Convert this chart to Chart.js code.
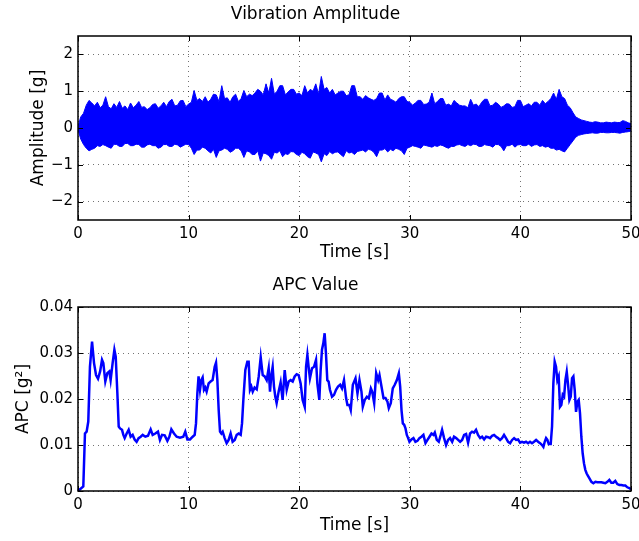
<!DOCTYPE html>
<html>
<head>
<meta charset="utf-8">
<script src="https://cdn.jsdelivr.net/npm/chart.js@4.4.1/dist/chart.umd.min.js"></script>
<style>
  body { margin: 0; background: #fff; }
  canvas { position: absolute; left: 0; }
</style>
</head>
<body>
<canvas id="vibration" width="639" height="270" style="top:0px"></canvas>
<canvas id="apc" width="639" height="270" style="top:271px"></canvas>
<script>
// axis ticks
const timeTicks = [0, 10, 20, 30, 40, 50];
const timeTickLabels = ["0", "10", "20", "30", "40", "50"];
const ampTicks = [-2, -1, 0, 1, 2];
const ampTickLabels = ["\u22122", "\u22121", "0", "1", "2"];
const apcTicks = [0, 0.01, 0.02, 0.03, 0.04];
const apcTickLabels = ["0", "0.01", "0.02", "0.03", "0.04"];

// vibration signal, upper / lower envelope every 0.25 s
const vibTime = [0, 0.25, 0.5, 0.75, 1, 1.25, 1.5, 1.75, 2, 2.25, 2.5, 2.75, 3, 3.25, 3.5, 3.75, 4, 4.25, 4.5, 4.75,
  5, 5.25, 5.5, 5.75, 6, 6.25, 6.5, 6.75, 7, 7.25, 7.5, 7.75, 8, 8.25, 8.5, 8.75, 9, 9.25, 9.5, 9.75,
  10, 10.25, 10.5, 10.75, 11, 11.25, 11.5, 11.75, 12, 12.25, 12.5, 12.75, 13, 13.25, 13.5, 13.75, 14, 14.25, 14.5, 14.75,
  15, 15.25, 15.5, 15.75, 16, 16.25, 16.5, 16.75, 17, 17.25, 17.5, 17.75, 18, 18.25, 18.5, 18.75, 19, 19.25, 19.5, 19.75,
  20, 20.25, 20.5, 20.75, 21, 21.25, 21.5, 21.75, 22, 22.25, 22.5, 22.75, 23, 23.25, 23.5, 23.75, 24, 24.25, 24.5, 24.75,
  25, 25.25, 25.5, 25.75, 26, 26.25, 26.5, 26.75, 27, 27.25, 27.5, 27.75, 28, 28.25, 28.5, 28.75, 29, 29.25, 29.5, 29.75,
  30, 30.25, 30.5, 30.75, 31, 31.25, 31.5, 31.75, 32, 32.25, 32.5, 32.75, 33, 33.25, 33.5, 33.75, 34, 34.25, 34.5, 34.75,
  35, 35.25, 35.5, 35.75, 36, 36.25, 36.5, 36.75, 37, 37.25, 37.5, 37.75, 38, 38.25, 38.5, 38.75, 39, 39.25, 39.5, 39.75,
  40, 40.25, 40.5, 40.75, 41, 41.25, 41.5, 41.75, 42, 42.25, 42.5, 42.75, 43, 43.25, 43.5, 43.75, 44, 44.25, 44.5, 44.75,
  45, 45.25, 45.5, 45.75, 46, 46.25, 46.5, 46.75, 47, 47.25, 47.5, 47.75, 48, 48.25, 48.5, 48.75, 49, 49.25, 49.5, 49.75,
  50];
const vibUpper = [0.05, 0.30, 0.40, 0.62, 0.75, 0.68, 0.60, 0.70, 0.55, 0.62, 0.85, 0.58, 0.52, 0.66, 0.56, 0.72, 0.54, 0.60, 0.50, 0.68,
  0.55, 0.62, 0.72, 0.56, 0.58, 0.50, 0.55, 0.64, 0.66, 0.54, 0.60, 0.70, 0.58, 0.72, 0.78, 0.60, 0.62, 0.74, 0.75, 0.58,
  0.65, 0.70, 1.02, 0.75, 0.80, 0.72, 0.85, 0.70, 0.78, 0.92, 0.90, 0.72, 1.15, 0.80, 0.82, 0.70, 0.85, 0.92, 0.72, 0.80,
  1.02, 0.85, 0.92, 0.88, 0.95, 1.05, 1.00, 0.90, 1.20, 0.95, 1.35, 0.92, 1.00, 1.15, 1.15, 0.90, 0.98, 1.05, 1.05, 0.92,
  0.95, 0.88, 1.15, 0.95, 1.05, 1.00, 1.20, 0.92, 1.40, 1.05, 1.10, 0.95, 1.05, 0.90, 0.95, 1.00, 1.00, 0.88, 0.90, 1.15,
  1.15, 0.85, 0.85, 0.78, 0.88, 0.82, 0.78, 0.75, 0.80, 0.95, 0.95, 0.76, 0.90, 0.78, 0.75, 0.70, 0.80, 0.85, 0.85, 0.72,
  0.70, 0.62, 0.68, 0.75, 0.75, 0.64, 0.65, 0.70, 0.95, 0.66, 0.72, 0.80, 0.80, 0.62, 0.65, 0.60, 0.75, 0.68, 0.62, 0.60,
  0.60, 0.55, 0.78, 0.62, 0.65, 0.58, 0.70, 0.78, 0.78, 0.60, 0.62, 0.70, 0.65, 0.56, 0.60, 0.66, 0.65, 0.56, 0.58, 0.75,
  0.75, 0.58, 0.62, 0.66, 0.60, 0.70, 0.70, 0.62, 0.75, 0.66, 0.72, 0.80, 0.95, 0.78, 1.05, 0.85, 0.80, 0.62, 0.55, 0.42,
  0.30, 0.26, 0.22, 0.20, 0.18, 0.16, 0.15, 0.17, 0.16, 0.14, 0.14, 0.16, 0.15, 0.14, 0.16, 0.15, 0.15, 0.20, 0.18, 0.14,
  0.12];
const vibLower = [-0.05, -0.30, -0.45, -0.55, -0.62, -0.58, -0.55, -0.48, -0.50, -0.45, -0.48, -0.52, -0.55, -0.44, -0.45, -0.50, -0.50, -0.42, -0.42, -0.48,
  -0.48, -0.44, -0.45, -0.52, -0.52, -0.46, -0.44, -0.48, -0.48, -0.55, -0.52, -0.45, -0.45, -0.50, -0.50, -0.44, -0.46, -0.52, -0.48, -0.44,
  -0.45, -0.55, -0.72, -0.60, -0.60, -0.52, -0.55, -0.62, -0.68, -0.58, -0.80, -0.62, -0.60, -0.55, -0.58, -0.66, -0.62, -0.55, -0.55, -0.62,
  -0.80, -0.62, -0.65, -0.72, -0.72, -0.62, -0.90, -0.68, -0.70, -0.75, -0.85, -0.66, -0.68, -0.62, -0.78, -0.70, -0.72, -0.64, -0.65, -0.72,
  -0.75, -0.66, -0.70, -0.78, -0.82, -0.65, -0.68, -0.72, -0.92, -0.70, -0.75, -0.64, -0.70, -0.66, -0.65, -0.72, -0.78, -0.62, -0.68, -0.66,
  -0.72, -0.64, -0.62, -0.60, -0.65, -0.58, -0.60, -0.66, -0.78, -0.60, -0.60, -0.56, -0.65, -0.58, -0.62, -0.55, -0.58, -0.62, -0.72, -0.55,
  -0.52, -0.48, -0.50, -0.52, -0.55, -0.46, -0.48, -0.50, -0.52, -0.48, -0.50, -0.46, -0.48, -0.52, -0.55, -0.50, -0.50, -0.46, -0.45, -0.48,
  -0.50, -0.45, -0.48, -0.44, -0.45, -0.50, -0.50, -0.45, -0.47, -0.48, -0.52, -0.45, -0.45, -0.50, -0.62, -0.48, -0.48, -0.44, -0.52, -0.46,
  -0.45, -0.48, -0.48, -0.44, -0.50, -0.46, -0.45, -0.50, -0.48, -0.52, -0.50, -0.55, -0.55, -0.60, -0.58, -0.62, -0.65, -0.55, -0.45, -0.35,
  -0.25, -0.20, -0.18, -0.16, -0.15, -0.14, -0.13, -0.14, -0.14, -0.12, -0.12, -0.13, -0.13, -0.12, -0.12, -0.13, -0.14, -0.12, -0.11, -0.10,
  -0.08];

// APC curve
const apcTime = [0, 0.48, 0.63, 0.78, 0.93, 1.08, 1.27, 1.45, 1.63, 1.81, 2.0, 2.17, 2.29, 2.47, 2.65, 2.83, 2.95, 3.13, 3.29, 3.41,
  3.56, 3.68, 3.8, 3.98, 4.1, 4.22, 4.4, 4.58, 4.76, 4.94, 5.12, 5.3, 5.48, 5.67, 5.85, 6.09, 6.33, 6.57, 6.75, 6.99,
  7.23, 7.41, 7.6, 7.84, 8.08, 8.26, 8.44, 8.68, 8.92, 9.22, 9.52, 9.7, 9.89, 10.13, 10.37, 10.55, 10.67, 10.79, 10.9, 11.03,
  11.15, 11.27, 11.39, 11.51, 11.63, 11.81, 11.99, 12.17, 12.36, 12.48, 12.6, 12.72, 12.84, 12.96, 13.08, 13.26, 13.44, 13.62, 13.8, 13.98,
  14.17, 14.35, 14.53, 14.71, 14.83, 14.95, 15.13, 15.31, 15.43, 15.55, 15.67, 15.8, 15.97, 16.16, 16.34, 16.52, 16.7, 16.88, 17.06, 17.24,
  17.36, 17.48, 17.6, 17.72, 17.84, 17.96, 18.14, 18.32, 18.5, 18.69, 18.87, 19.05, 19.23, 19.41, 19.59, 19.77, 19.95, 20.13, 20.31, 20.5,
  20.62, 20.74, 20.85, 20.97, 21.16, 21.34, 21.52, 21.64, 21.82, 21.94, 22.06, 22.18, 22.3, 22.42, 22.54, 22.66, 22.78, 22.97, 23.15, 23.33,
  23.51, 23.7, 23.87, 24.05, 24.24, 24.36, 24.53, 24.66, 24.85, 25.09, 25.27, 25.45, 25.63, 25.75, 25.93, 26.12, 26.3, 26.48, 26.6, 26.78,
  26.96, 27.14, 27.26, 27.44, 27.62, 27.8, 27.98, 28.1, 28.28, 28.46, 28.64, 28.83, 29.01, 29.13, 29.25, 29.37, 29.49, 29.61, 29.73, 29.85,
  29.97, 30.15, 30.33, 30.51, 30.69, 30.87, 31.05, 31.23, 31.42, 31.6, 31.78, 31.96, 32.14, 32.26, 32.44, 32.62, 32.8, 32.92, 33.1, 33.28,
  33.46, 33.64, 33.83, 34.0, 34.19, 34.37, 34.55, 34.73, 34.91, 35.09, 35.27, 35.45, 35.63, 35.81, 35.99, 36.17, 36.36, 36.54, 36.72, 36.9,
  37.08, 37.26, 37.44, 37.62, 37.8, 37.98, 38.16, 38.34, 38.52, 38.7, 38.89, 39.07, 39.25, 39.43, 39.61, 39.79, 39.97, 40.15, 40.33, 40.51,
  40.69, 40.87, 41.05, 41.23, 41.42, 41.6, 41.78, 41.96, 42.08, 42.2, 42.32, 42.44, 42.56, 42.74, 42.86, 42.98, 43.1, 43.22, 43.34, 43.46,
  43.58, 43.7, 43.83, 43.95, 44.07, 44.19, 44.31, 44.43, 44.55, 44.67, 44.79, 44.91, 45.03, 45.15, 45.27, 45.39, 45.51, 45.63, 45.75, 45.87,
  45.99, 46.11, 46.23, 46.42, 46.6, 46.78, 46.96, 47.14, 47.32, 47.5, 47.68, 47.86, 48.04, 48.22, 48.4, 48.58, 48.76, 48.95, 49.13, 49.31,
  49.49, 49.67, 49.85, 50];
const apcValue = [0.0000, 0.0010, 0.0125, 0.0129, 0.0151, 0.0270, 0.0325, 0.0278, 0.0252, 0.0244, 0.0260, 0.0285, 0.0278, 0.0238, 0.0256, 0.0260, 0.0241, 0.0278, 0.0307, 0.0292,
  0.0212, 0.0140, 0.0136, 0.0133, 0.0122, 0.0115, 0.0125, 0.0133, 0.0118, 0.0122, 0.0112, 0.0107, 0.0115, 0.0118, 0.0122, 0.0118, 0.0120, 0.0134, 0.0122, 0.0125,
  0.0129, 0.0111, 0.0122, 0.0121, 0.0109, 0.0118, 0.0134, 0.0125, 0.0118, 0.0116, 0.0118, 0.0129, 0.0112, 0.0112, 0.0118, 0.0122, 0.0147, 0.0212, 0.0249, 0.0220,
  0.0241, 0.0247, 0.0220, 0.0225, 0.0216, 0.0234, 0.0238, 0.0241, 0.0270, 0.0279, 0.0241, 0.0176, 0.0129, 0.0125, 0.0129, 0.0115, 0.0104, 0.0111, 0.0125, 0.0107,
  0.0111, 0.0122, 0.0125, 0.0122, 0.0147, 0.0198, 0.0263, 0.0281, 0.0281, 0.0220, 0.0227, 0.0216, 0.0225, 0.0221, 0.0249, 0.0291, 0.0252, 0.0249, 0.0241, 0.0267,
  0.0216, 0.0252, 0.0270, 0.0227, 0.0205, 0.0191, 0.0216, 0.0236, 0.0198, 0.0263, 0.0220, 0.0238, 0.0241, 0.0238, 0.0249, 0.0254, 0.0252, 0.0234, 0.0198, 0.0183,
  0.0270, 0.0296, 0.0270, 0.0245, 0.0267, 0.0270, 0.0285, 0.0234, 0.0198, 0.0263, 0.0307, 0.0321, 0.0343, 0.0299, 0.0241, 0.0238, 0.0220, 0.0205, 0.0209, 0.0220,
  0.0227, 0.0231, 0.0223, 0.0241, 0.0202, 0.0187, 0.0187, 0.0176, 0.0231, 0.0245, 0.0212, 0.0241, 0.0216, 0.0183, 0.0198, 0.0205, 0.0202, 0.0223, 0.0216, 0.0191,
  0.0256, 0.0241, 0.0252, 0.0227, 0.0202, 0.0202, 0.0194, 0.0180, 0.0191, 0.0223, 0.0231, 0.0241, 0.0256, 0.0227, 0.0176, 0.0147, 0.0144, 0.0136, 0.0122, 0.0115,
  0.0107, 0.0112, 0.0115, 0.0107, 0.0109, 0.0115, 0.0118, 0.0122, 0.0104, 0.0111, 0.0118, 0.0125, 0.0122, 0.0127, 0.0111, 0.0107, 0.0122, 0.0133, 0.0115, 0.0100,
  0.0111, 0.0115, 0.0107, 0.0118, 0.0115, 0.0111, 0.0107, 0.0111, 0.0122, 0.0124, 0.0105, 0.0125, 0.0129, 0.0127, 0.0133, 0.0122, 0.0115, 0.0118, 0.0112, 0.0118,
  0.0117, 0.0115, 0.0120, 0.0122, 0.0118, 0.0115, 0.0111, 0.0115, 0.0122, 0.0115, 0.0107, 0.0104, 0.0111, 0.0115, 0.0111, 0.0112, 0.0105, 0.0107, 0.0105, 0.0107,
  0.0104, 0.0107, 0.0104, 0.0107, 0.0111, 0.0107, 0.0104, 0.0100, 0.0096, 0.0107, 0.0115, 0.0111, 0.0102, 0.0102, 0.0140, 0.0234, 0.0281, 0.0270, 0.0241, 0.0249,
  0.0183, 0.0187, 0.0209, 0.0205, 0.0241, 0.0259, 0.0231, 0.0198, 0.0205, 0.0245, 0.0249, 0.0220, 0.0172, 0.0194, 0.0198, 0.0169, 0.0118, 0.0082, 0.0060, 0.0046,
  0.0038, 0.0033, 0.0028, 0.0020, 0.0017, 0.0020, 0.0019, 0.0019, 0.0019, 0.0018, 0.0017, 0.0020, 0.0024, 0.0018, 0.0018, 0.0022, 0.0015, 0.0013, 0.0013, 0.0012,
  0.0012, 0.0008, 0.0006, 0.0004];

const FONT = "'DejaVu Sans', sans-serif";
const BLUE = "#0000ff";

function points(xs, ys) {
  return xs.map((x, i) => ({ x: x, y: ys[i] }));
}

// matlab-like box with inward ticks on all four sides
const axesBox = {
  id: "axesBox",
  afterDatasetsDraw(chart) {
    const { ctx, chartArea: a } = chart;
    const x = chart.scales.x, y = chart.scales.y;
    ctx.save();
    ctx.strokeStyle = "#000";
    ctx.lineWidth = 1;
    ctx.beginPath();
    for (const t of x.ticks) {
      const px = Math.round(x.getPixelForValue(t.value)) + 0.5;
      ctx.moveTo(px, a.bottom); ctx.lineTo(px, a.bottom - 5);
      ctx.moveTo(px, a.top); ctx.lineTo(px, a.top + 5);
    }
    for (const t of y.ticks) {
      const py = Math.round(y.getPixelForValue(t.value)) + 0.5;
      ctx.moveTo(a.left, py); ctx.lineTo(a.left + 5, py);
      ctx.moveTo(a.right, py); ctx.lineTo(a.right - 5, py);
    }
    ctx.stroke();
    ctx.lineWidth = 1.5;
    ctx.strokeRect(a.left, a.top, a.right - a.left, a.bottom - a.top);
    ctx.restore();
  }
};

function plot_panel(canvasId, p) {
  new Chart(document.getElementById(canvasId), {
    type: "line",
    data: { datasets: p.datasets },
    options: {
      responsive: false,
      animation: false,
      devicePixelRatio: 1,
      layout: { padding: { left: 0, right: 8, top: 0, bottom: 0 } },
      plugins: {
        legend: { display: false },
        tooltip: { enabled: false },
        title: {
          display: true,
          text: p.title,
          color: "#000",
          font: { family: FONT, size: 17, weight: "normal" },
          padding: { top: 4.8, bottom: 10.8 }
        }
      },
      scales: {
        x: {
          type: "linear",
          min: 0,
          max: 50,
          afterBuildTicks: s => { s.ticks = timeTicks.map(v => ({ value: v })); },
          afterFit: s => { s.height = 50; s.paddingLeft = 0; s.paddingRight = 0; },
          ticks: {
            color: "#000",
            font: { family: FONT, size: 15 },
            padding: 5,
            maxRotation: 0,
            autoSkip: false,
            callback: (v, i) => timeTickLabels[i]
          },
          grid: { color: "rgba(0,0,0,0.55)", lineWidth: 1, drawTicks: false },
          border: { display: false, dash: [1, 4] },
          title: {
            display: true,
            text: "Time [s]",
            color: "#000",
            font: { family: FONT, size: 17 },
            padding: { top: 0, bottom: p.xTitlePad }
          }
        },
        y: {
          type: "linear",
          min: p.yMin,
          max: p.yMax,
          afterBuildTicks: s => { s.ticks = p.yTicks.map(v => ({ value: v })); },
          afterFit: s => { s.width = 78; s.paddingTop = 0; s.paddingBottom = 0; },
          ticks: {
            color: "#000",
            font: { family: FONT, size: 15 },
            padding: 5,
            autoSkip: false,
            callback: (v, i) => p.yTickLabels[i]
          },
          grid: { color: "rgba(0,0,0,0.55)", lineWidth: 1, drawTicks: false },
          border: { display: false, dash: [1, 4] },
          title: {
            display: true,
            text: p.yTitle,
            color: "#000",
            font: { family: FONT, size: 17 },
            padding: { top: p.yTitlePad, bottom: 0 }
          }
        }
      }
    },
    plugins: [axesBox]
  });
}

plot_panel("vibration", {
  title: "Vibration Amplitude",
  yTitle: "Amplitude [g]",
  yMin: -2.5,
  yMax: 2.5,
  yTicks: ampTicks,
  yTickLabels: ampTickLabels,
  xTitlePad: 6.8,
  yTitlePad: 28.8,
  datasets: [{
    data: points(vibTime, vibUpper),
    borderColor: BLUE,
    backgroundColor: BLUE,
    borderWidth: 1,
    pointRadius: 0,
    fill: "+1"
  }, {
    data: points(vibTime, vibLower),
    borderColor: BLUE,
    borderWidth: 1,
    pointRadius: 0,
    fill: false
  }]
});

plot_panel("apc", {
  title: "APC Value",
  yTitle: "APC [g\u00b2]",
  yMin: 0,
  yMax: 0.04,
  yTicks: apcTicks,
  yTickLabels: apcTickLabels,
  xTitlePad: 5.2,
  yTitlePad: 13.8,
  datasets: [{
    data: points(apcTime, apcValue),
    borderColor: BLUE,
    borderWidth: 2.5,
    pointRadius: 0,
    fill: false,
    clip: 3
  }]
});
</script>
</body>
</html>
